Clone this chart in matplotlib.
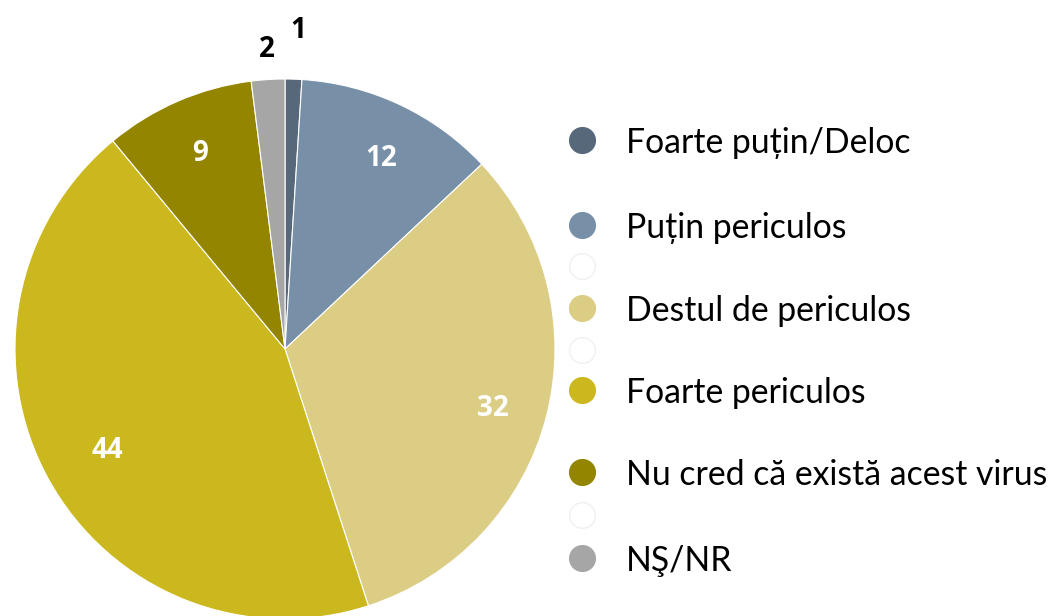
import matplotlib
matplotlib.use("Agg")
import matplotlib.pyplot as plt
import numpy as np

categories = ["Foarte puțin/Deloc", "Puțin periculos", "Destul de periculos",
              "Foarte periculos", "Nu cred că există acest virus", "NŞ/NR"]
values = [1, 12, 32, 44, 9, 2]
colors = ["#56687a", "#7790a8", "#dccd85", "#cbb81f", "#938500", "#a6a6a6"]

plt.rcParams['font.family'] = ['Lato', 'DejaVu Sans']

W, H = 1055, 616
fig = plt.figure(figsize=(W / 100, H / 100), dpi=100)

# pie axes: center (285,349) px, radius 270 px
cx, cy, r = 285, 349, 270
ax = fig.add_axes([(cx - r) / W, (H - cy - r) / H, 2 * r / W, 2 * r / H])
wedges, _ = ax.pie(values, colors=colors, startangle=90, counterclock=False,
                   radius=1, wedgeprops=dict(edgecolor="white", linewidth=0.8))
ax.set_xlim(-1, 1)
ax.set_ylim(-1, 1)
ax.set_aspect("equal")
ax.axis("off")

label_r = [1.18, 0.79, 0.80, 0.76, 0.79, 1.11]
label_color = ["black", "white", "white", "white", "white", "black"]
label_shift = [-0.6, -1.5, -1.5, 1.0, 0, -0.2]
for w, v, lr, lc, sh in zip(wedges, values, label_r, label_color, label_shift):
    ang = np.deg2rad((w.theta1 + w.theta2) / 2 + sh)
    ax.text(lr * np.cos(ang), lr * np.sin(ang), str(v), ha="center", va="center",
            fontsize=20, fontweight="bold", color=lc,
            family=["Open Sans", "DejaVu Sans"])

# legend drawn as overlay in pixel layout
lax = fig.add_axes([0, 0, 1, 1])
lax.set_xlim(0, W)
lax.set_ylim(H, 0)
lax.axis("off")
legend_rows = [140, 225, 308, 390, 472, 558]
blank_rows = [266, 350, 515]
for y in blank_rows:
    lax.plot([582], [y], marker="o", markersize=18.5, markerfacecolor="white",
             markeredgecolor="#f0f0f0", markeredgewidth=1, linestyle="none")
for name, col, y in zip(categories, colors, legend_rows):
    lax.plot([582], [y], marker="o", markersize=18.5, markerfacecolor=col,
             markeredgecolor=col, linestyle="none")
    lax.text(626, y, name, ha="left", va="center_baseline", fontsize=24.3, color="black")

fig.savefig("out.png", dpi=100)
